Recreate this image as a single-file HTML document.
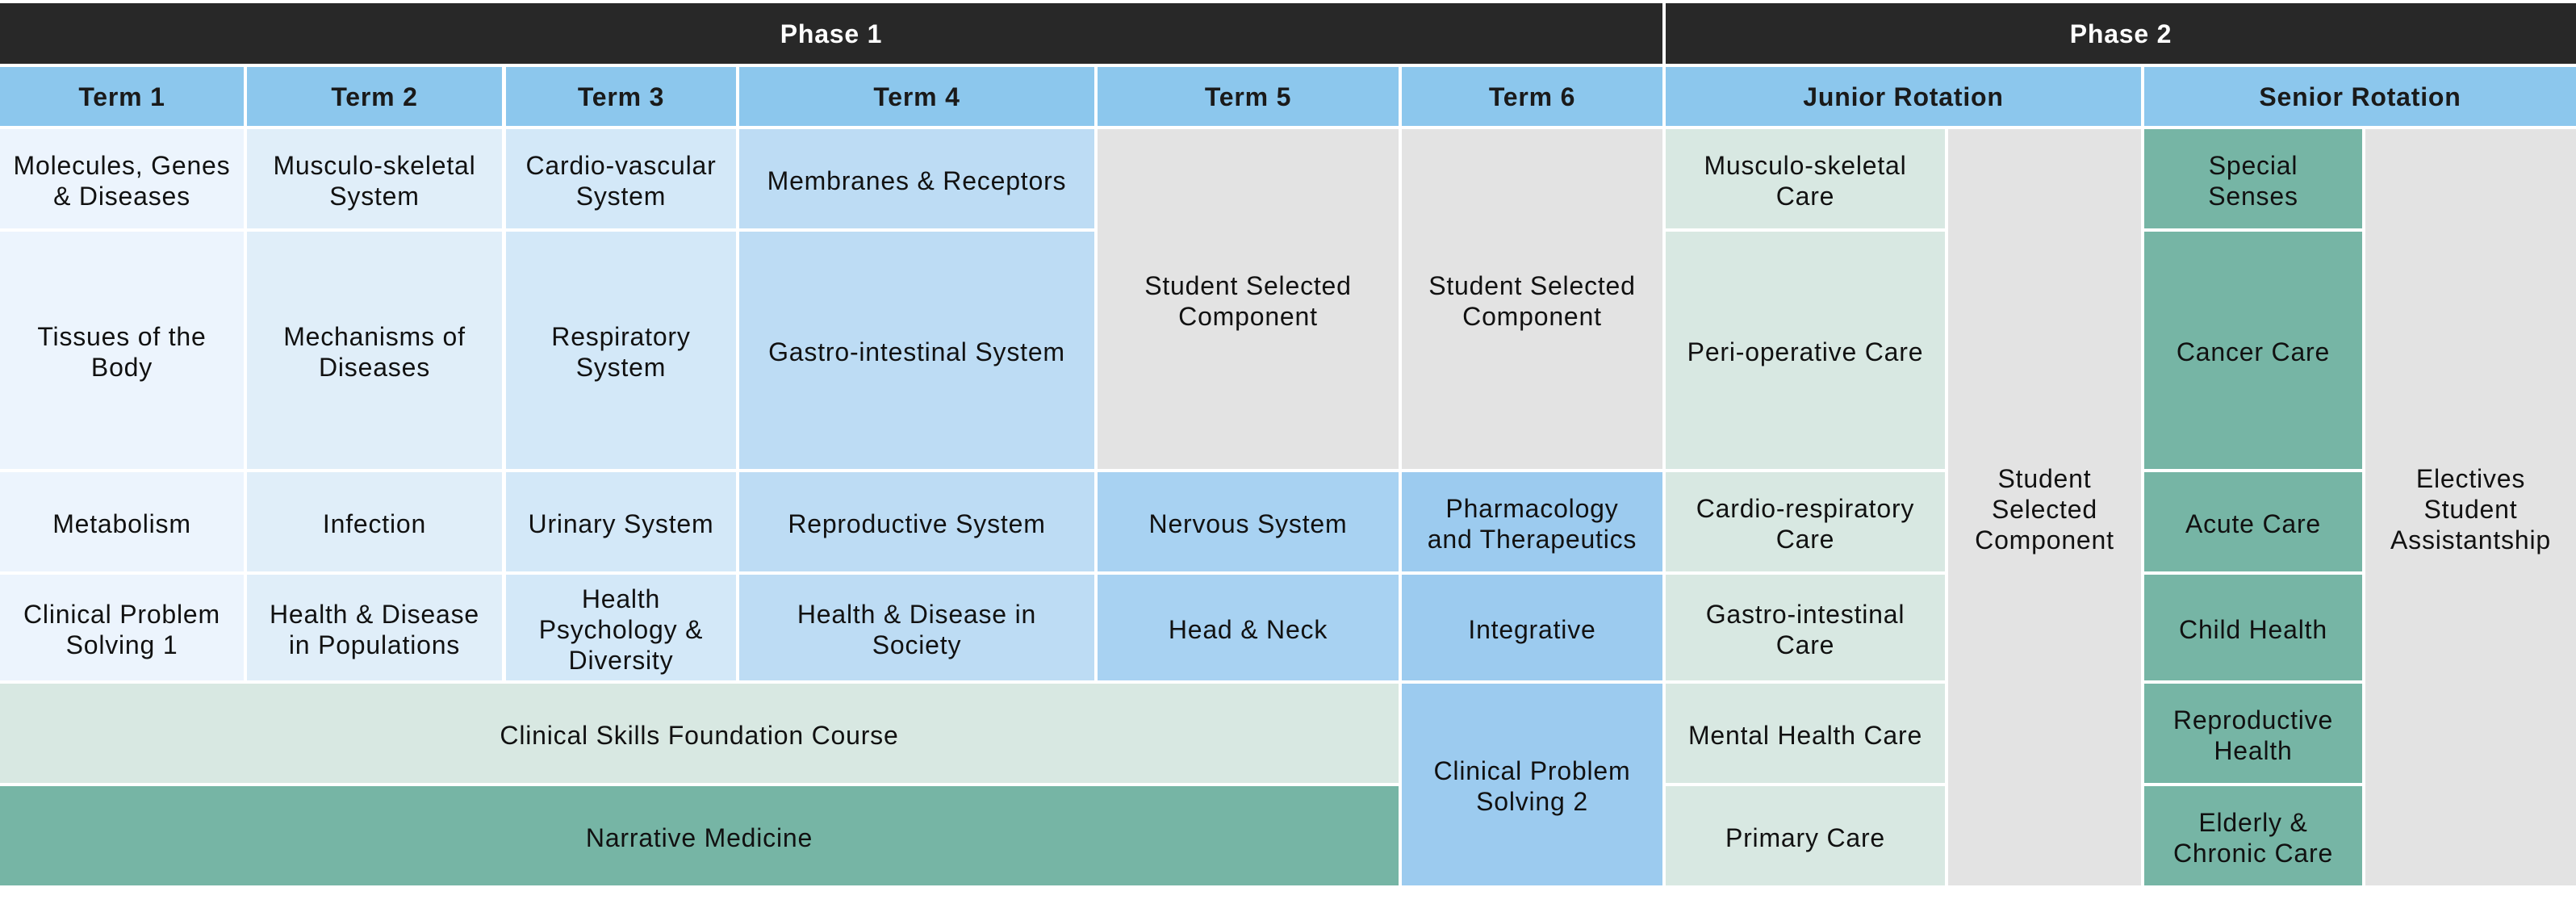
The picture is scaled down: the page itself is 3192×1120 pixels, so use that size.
<!DOCTYPE html>
<html><head><meta charset="utf-8"><style>
html,body{margin:0;padding:0;background:#fff;}
body{width:3192px;height:1120px;position:relative;overflow:hidden;font-family:"Liberation Sans",sans-serif;}
.c{position:absolute;display:flex;align-items:center;justify-content:center;text-align:center;font-size:32px;line-height:38px;letter-spacing:0.8px;color:#111;box-sizing:border-box;padding:4px 8px 0 8px;}
.d{background:#282828;color:#fff;font-weight:bold;padding-top:0;}
.h{background:#8cc7ed;font-weight:bold;color:#1a1a1a;padding-top:0;}
.a{background:#ecf4fd}.b{background:#e0eef9}.e{background:#d3e8f8}.f{background:#bddcf4}
.n{background:#a8d2f2}.s{background:#9ccbef}.g{background:#e3e3e3}.j{background:#d8e8e2}.t{background:#76b5a5}
</style></head><body>
<div class="c d" style="left:0;top:4px;width:2060px;height:75px">Phase 1</div>
<div class="c d" style="left:2064px;top:4px;width:1128px;height:75px">Phase 2</div>

<div class="c h" style="left:0;top:83px;width:302px;height:73px">Term 1</div>
<div class="c h" style="left:306px;top:83px;width:316px;height:73px">Term 2</div>
<div class="c h" style="left:627px;top:83px;width:285px;height:73px">Term 3</div>
<div class="c h" style="left:916px;top:83px;width:440px;height:73px">Term 4</div>
<div class="c h" style="left:1360px;top:83px;width:373px;height:73px">Term 5</div>
<div class="c h" style="left:1737px;top:83px;width:323px;height:73px">Term 6</div>
<div class="c h" style="left:2064px;top:83px;width:589px;height:73px">Junior Rotation</div>
<div class="c h" style="left:2657px;top:83px;width:535px;height:73px">Senior Rotation</div>

<div class="c a" style="left:0;top:160px;width:302px;height:123px">Molecules, Genes<br>&amp; Diseases</div>
<div class="c a" style="left:0;top:287px;width:302px;height:294px">Tissues of the<br>Body</div>
<div class="c a" style="left:0;top:585px;width:302px;height:123px">Metabolism</div>
<div class="c a" style="left:0;top:712px;width:302px;height:131px">Clinical Problem<br>Solving 1</div>

<div class="c b" style="left:306px;top:160px;width:316px;height:123px">Musculo-skeletal<br>System</div>
<div class="c b" style="left:306px;top:287px;width:316px;height:294px">Mechanisms of<br>Diseases</div>
<div class="c b" style="left:306px;top:585px;width:316px;height:123px">Infection</div>
<div class="c b" style="left:306px;top:712px;width:316px;height:131px">Health &amp; Disease<br>in Populations</div>

<div class="c e" style="left:627px;top:160px;width:285px;height:123px">Cardio-vascular<br>System</div>
<div class="c e" style="left:627px;top:287px;width:285px;height:294px">Respiratory<br>System</div>
<div class="c e" style="left:627px;top:585px;width:285px;height:123px">Urinary System</div>
<div class="c e" style="left:627px;top:712px;width:285px;height:131px">Health<br>Psychology &amp;<br>Diversity</div>

<div class="c f" style="left:916px;top:160px;width:440px;height:123px">Membranes &amp; Receptors</div>
<div class="c f" style="left:916px;top:287px;width:440px;height:294px">Gastro-intestinal System</div>
<div class="c f" style="left:916px;top:585px;width:440px;height:123px">Reproductive System</div>
<div class="c f" style="left:916px;top:712px;width:440px;height:131px">Health &amp; Disease in<br>Society</div>

<div class="c g" style="left:1360px;top:160px;width:373px;height:421px">Student Selected<br>Component</div>
<div class="c n" style="left:1360px;top:585px;width:373px;height:123px">Nervous System</div>
<div class="c n" style="left:1360px;top:712px;width:373px;height:131px">Head &amp; Neck</div>

<div class="c g" style="left:1737px;top:160px;width:323px;height:421px">Student Selected<br>Component</div>
<div class="c s" style="left:1737px;top:585px;width:323px;height:123px">Pharmacology<br>and Therapeutics</div>
<div class="c s" style="left:1737px;top:712px;width:323px;height:131px">Integrative</div>
<div class="c s" style="left:1737px;top:847px;width:323px;height:250px">Clinical Problem<br>Solving 2</div>

<div class="c j" style="left:0;top:847px;width:1733px;height:123px">Clinical Skills Foundation Course</div>
<div class="c t" style="left:0;top:974px;width:1733px;height:123px">Narrative Medicine</div>

<div class="c j" style="left:2064px;top:160px;width:346px;height:123px">Musculo-skeletal<br>Care</div>
<div class="c j" style="left:2064px;top:287px;width:346px;height:294px">Peri-operative Care</div>
<div class="c j" style="left:2064px;top:585px;width:346px;height:123px">Cardio-respiratory<br>Care</div>
<div class="c j" style="left:2064px;top:712px;width:346px;height:131px">Gastro-intestinal<br>Care</div>
<div class="c j" style="left:2064px;top:847px;width:346px;height:123px">Mental Health Care</div>
<div class="c j" style="left:2064px;top:974px;width:346px;height:123px">Primary Care</div>
<div class="c g" style="left:2414px;top:160px;width:239px;height:937px">Student<br>Selected<br>Component</div>

<div class="c t" style="left:2657px;top:160px;width:270px;height:123px">Special<br>Senses</div>
<div class="c t" style="left:2657px;top:287px;width:270px;height:294px">Cancer Care</div>
<div class="c t" style="left:2657px;top:585px;width:270px;height:123px">Acute Care</div>
<div class="c t" style="left:2657px;top:712px;width:270px;height:131px">Child Health</div>
<div class="c t" style="left:2657px;top:847px;width:270px;height:123px">Reproductive<br>Health</div>
<div class="c t" style="left:2657px;top:974px;width:270px;height:123px">Elderly &amp;<br>Chronic Care</div>
<div class="c g" style="left:2931px;top:160px;width:261px;height:937px">Electives<br>Student<br>Assistantship</div>
</body></html>
